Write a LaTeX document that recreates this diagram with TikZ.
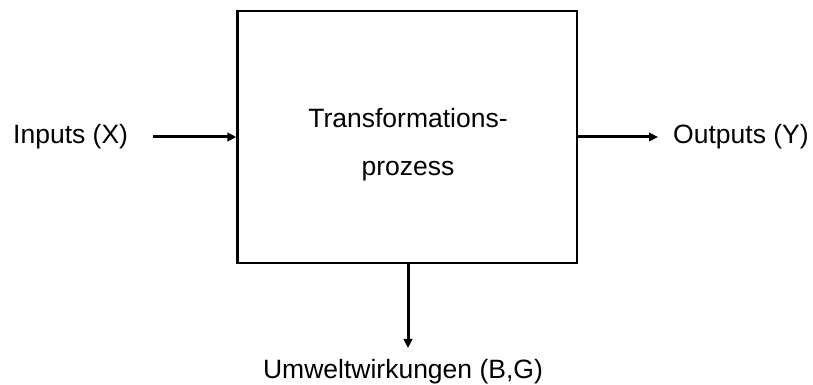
\documentclass[tikz,border=0pt]{standalone}
\usepackage{fontspec}
\setmainfont{Liberation Sans}
\usetikzlibrary{arrows.meta}
\begin{document}
\begin{tikzpicture}[x=1pt,y=1pt,
  lbl/.style={inner sep=0pt, font=\fontsize{26.5}{30}\selectfont},
  boxst/.style={draw=black, line width=2.3pt, minimum width=339.5pt, minimum height=252pt, inner sep=0pt},
  arr/.style={line width=3pt, -{Triangle[length=9pt,width=8.5pt]}}]
\useasboundingbox (0,0) rectangle (813,385);
\node[boxst] (box) at (407.25,248) {};
\node[lbl, anchor=base] (t1) at (408,257.5) {Transformations-};
\node[lbl, anchor=base] (t2) at (408,209.5) {prozess};
\node[lbl, anchor=base west] (inp) at (13,241) {Inputs (X)};
\node[lbl, anchor=base west] (outp) at (673,241) {Outputs (Y)};
\node[lbl, anchor=base] (env) at (403,6) {Umweltwirkungen (B,G)};
\coordinate (a1) at (153,248);
\coordinate (a2) at (658,248);
\coordinate (a3) at (408,37);
\draw[arr] (a1) -- (a1 -| box.west);
\draw[arr] (a2 -| box.east) -- (a2);
\draw[arr] (a3 |- box.south) -- (a3);
\end{tikzpicture}
\end{document}
